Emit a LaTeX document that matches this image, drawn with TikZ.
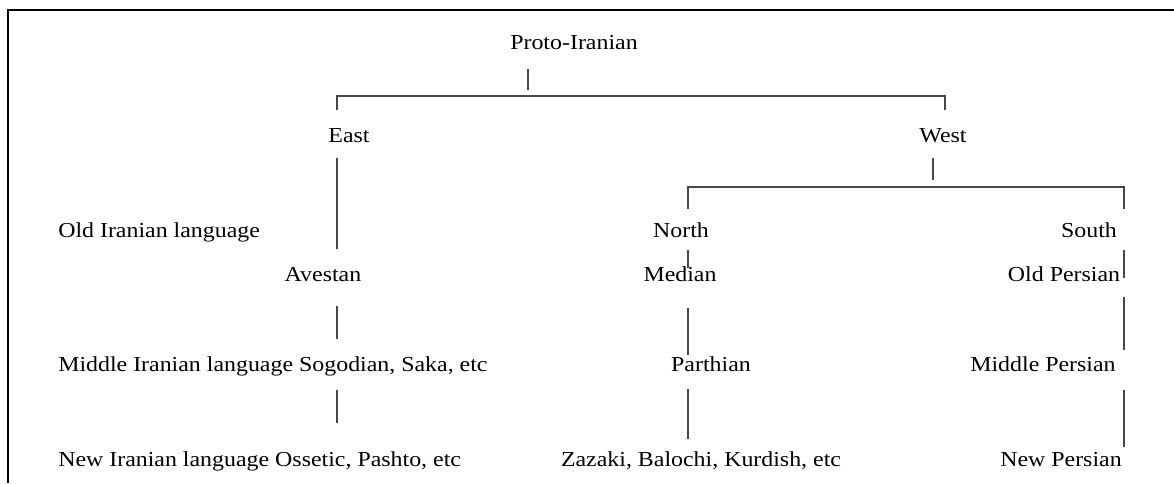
\documentclass[tikz,border=0pt]{standalone}
\usepackage{fontspec}
\setmainfont{Liberation Serif}[FakeStretch=1.12]
\usetikzlibrary{positioning}

\tikzset{
  lang/.style={inner sep=0pt, anchor=base, font=\fontsize{16}{19}\selectfont},
  langleft/.style={lang, anchor=base west},
  branch/.style={line width=1pt, color=black!72},
  frame/.style={line width=1.6pt, color=black}
}

\begin{document}
\begin{tikzpicture}[x=0.75pt, y=-0.75pt]
  %%%%% START %%%%%
  \useasboundingbox (0,0) rectangle (1174,483);

  % frame
  \draw[frame] (1174,10) -- (8,10) -- (8,483);

  % top
  \node[lang] (proto) at (574,49) {Proto-Iranian};
  \node[lang] (east) at (349,142) {East};
  \node[lang] (west) at (943,142) {West};

  % old period
  \node[langleft] (oldlbl) at (58,237) {Old Iranian language};
  \node[lang] (north) at (681,237) {North};
  \node[lang] (south) at (1089,237) {South};
  \node[lang] (avestan) at (323,281) {Avestan};
  \node[lang] (median) at (680,281) {Median};
  \node[lang] (oldpers) at (1064,281) {Old Persian};

  % middle period
  \node[langleft] (midlbl) at (58,371) {Middle Iranian language Sogodian, Saka, etc};
  \node[lang] (parthian) at (711,371) {Parthian};
  \node[lang] (midpers) at (1043,371) {Middle Persian};

  % new period
  \node[langleft] (newlbl) at (58,466) {New Iranian language Ossetic, Pashto, etc};
  \node[lang] (zazaki) at (701,466) {Zazaki, Balochi, Kurdish, etc};
  \node[lang] (newpers) at (1061,466) {New Persian};

  % line ends
  \foreach \name/\x/\y in {pa/528/69, pb/528/90,
      ea/337/110, eb/337/96, wb/945/96, wa/945/110,
      ec/337/158, ed/337/249, wc/933/158, wd/933/180,
      na/688/209, nb/688/187, sb/1124/187, sa/1124/209,
      nc/688/250, nd/688/268, sc/1124/250, sd/1124/278,
      av1/337/306, av2/337/339, mi1/337/390, mi2/337/423,
      me1/688/308, me2/688/355, pt1/688/389, pt2/688/439,
      op1/1124/297, op2/1124/350, mp1/1124/390, mp2/1124/447}
    \coordinate (\name) at (\x,\y);

  % branches
  \draw[branch] (pa) -- (pb);
  \draw[branch] (ea) -- (eb) -- (wb) -- (wa);
  \draw[branch] (ec) -- (ed);
  \draw[branch] (wc) -- (wd);
  \draw[branch] (na) -- (nb) -- (sb) -- (sa);
  \draw[branch] (nc) -- (nd);
  \draw[branch] (sc) -- (sd);
  \draw[branch] (av1) -- (av2);
  \draw[branch] (mi1) -- (mi2);
  \draw[branch] (me1) -- (me2);
  \draw[branch] (pt1) -- (pt2);
  \draw[branch] (op1) -- (op2);
  \draw[branch] (mp1) -- (mp2);
  %%%%% END %%%%%
\end{tikzpicture}
\end{document}
